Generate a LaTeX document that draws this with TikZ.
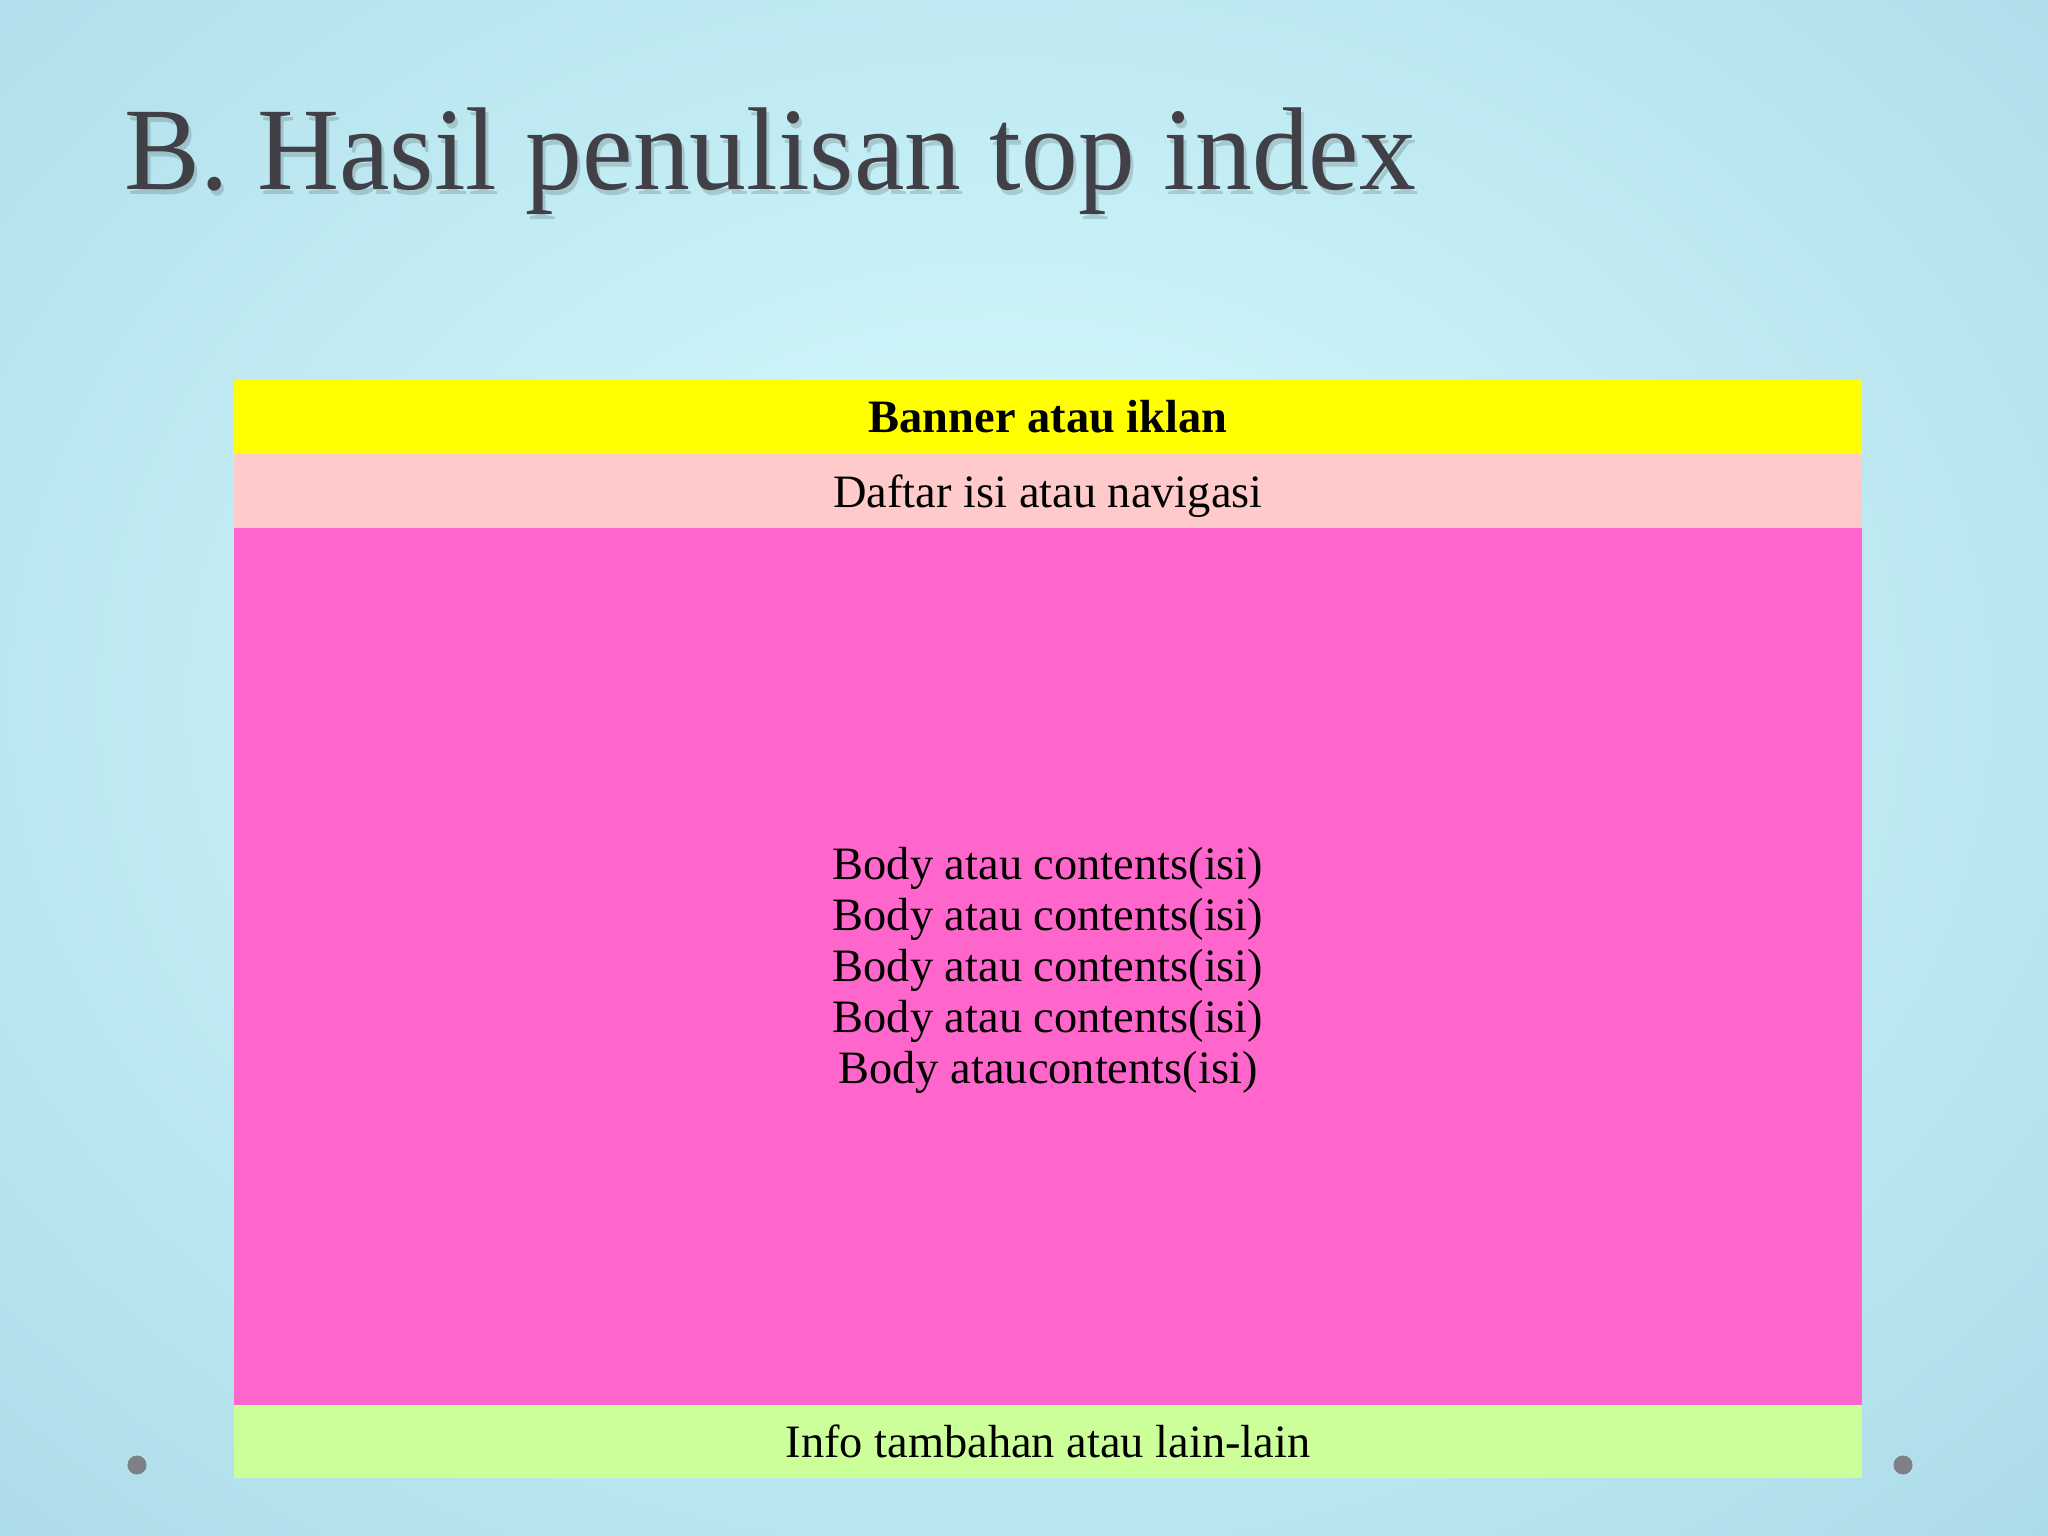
\documentclass[tikz,border=0pt]{standalone}
\usepackage{fontspec}
\setmainfont{Liberation Serif}
\newfontfamily\judulfont[FakeStretch=0.965]{Liberation Serif}
\usetikzlibrary{positioning}
\definecolor{latar}{RGB}{216,253,255}
\definecolor{latarluar}{RGB}{160,210,226}
\definecolor{judul}{RGB}{64,64,70}
\definecolor{kuning}{RGB}{255,255,0}
\definecolor{merahmuda}{RGB}{255,202,202}
\definecolor{magenta}{RGB}{255,102,204}
\definecolor{hijau}{RGB}{204,255,153}
\definecolor{titik}{RGB}{127,127,134}
\tikzset{
  band/.style={minimum width=16.28cm, inner sep=0pt, outer sep=0pt, font=\fontsize{13.2}{14.5}\selectfont, align=center},
  dot/.style={circle, fill=titik, minimum size=0.19cm, inner sep=0pt}
}
\newcommand{\turun}[1]{\raisebox{-1.5pt}[\height][\depth]{#1}}
\begin{document}
\begin{tikzpicture}[x=0.01cm,y=-0.01cm,node distance=0pt]
\useasboundingbox (0,0) rectangle (2048,1536);
\shade[inner color=latar, outer color=latarluar] (-900,-800) rectangle (2900,2200);
\node[anchor=base west, text=black, opacity=0.15, font=\judulfont\fontsize{33.5}{40}\selectfont, inner sep=0pt] (bayangan) at (127,194) {B. Hasil penulisan top index};
\node[anchor=base west, text=judul, font=\judulfont\fontsize{33.5}{40}\selectfont, inner sep=0pt] (judul) at (124,189) {B. Hasil penulisan top index};
\node[band, fill=kuning, minimum height=0.74cm] (banner) at (1048,417) {\textbf{Banner atau iklan}};
\node[band, fill=merahmuda, minimum height=0.74cm, below=of banner] (daftar) {\turun{Daftar isi atau navigasi}};
\node[band, fill=magenta, minimum height=8.76cm, below=of daftar] (body) {\turun{\begin{tabular}{@{}c@{}}Body atau contents(isi)\\Body atau contents(isi)\\Body atau contents(isi)\\Body atau contents(isi)\\Body ataucontents(isi)\end{tabular}}};
\node[band, fill=hijau, minimum height=0.73cm, below=of body] (info) {Info tambahan atau lain-lain};
\node[dot] (kiri) at (137,1465) {};
\node[dot] (kanan) at (1903,1465) {};
\end{tikzpicture}
\end{document}
